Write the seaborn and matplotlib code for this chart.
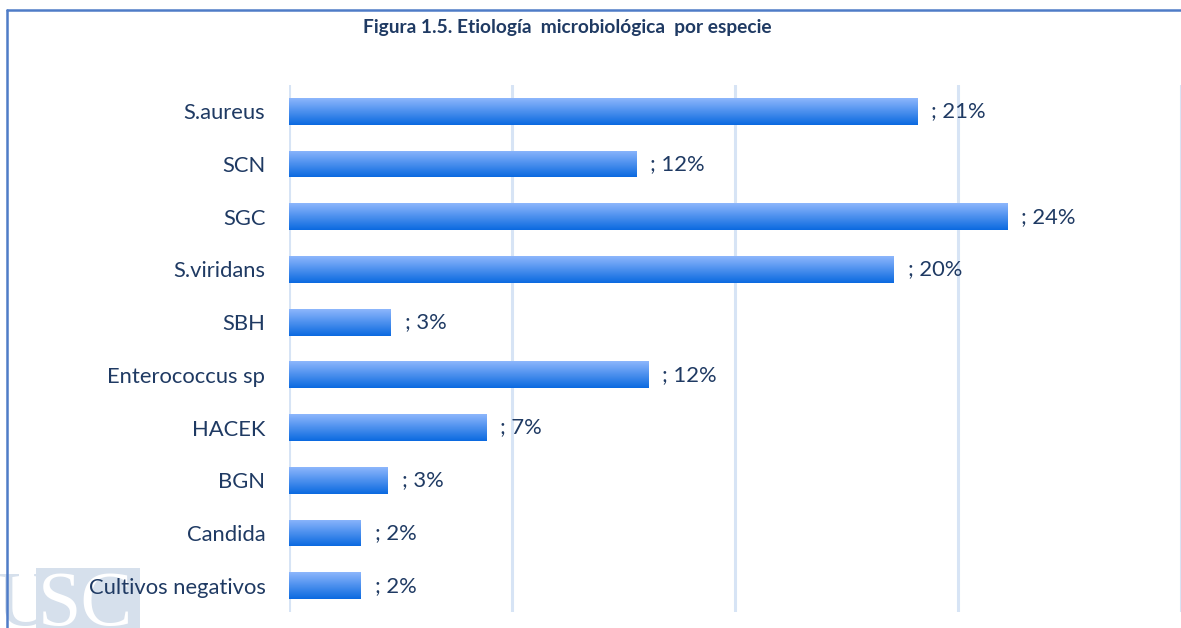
import numpy as np
import pandas as pd
import matplotlib
matplotlib.use("Agg")
import matplotlib.pyplot as plt
from matplotlib.colors import to_rgb
from matplotlib.patches import Rectangle
from matplotlib.lines import Line2D
import seaborn as sns

# Data: share of cases by microorganism (percent)
species = ["S.aureus", "SCN", "SGC", "S.viridans", "SBH",
           "Enterococcus sp", "HACEK", "BGN", "Candida", "Cultivos negativos"]
percent = [21.0, 11.6, 24.0, 20.2, 3.4, 12.0, 6.6, 3.3, 2.4, 2.4]

title = "Figura 1.5. Etiología  microbiológica  por especie"

df = pd.DataFrame({"especie": species, "porcentaje": percent})

sns.set_theme(style="white")
plt.rcParams["font.family"] = ["Lato", "DejaVu Sans"]

text_color = "#1f3a63"
grid_color = "#d7e4f5"
top_color = np.array(to_rgb("#8db6fc"))
bottom_color = np.array(to_rgb("#0b6ae0"))

fig = plt.figure(figsize=(11.81, 6.28), dpi=100)
ax = fig.add_axes([289 / 1181, 1 - 612 / 628, 1 - 289 / 1181, (612 - 85) / 628])
ax.set_zorder(1)
ax.patch.set_alpha(0)

sns.barplot(data=df, x="porcentaje", y="especie", orient="h", ax=ax,
            width=0.51, color="#3d86ee", saturation=1, edgecolor="none")

# Vertical gradient fill for every bar
n = 64
t = np.linspace(0, 1, n)[:, None, None]
grad = top_color * (1 - t) + bottom_color * t
for patch in ax.patches:
    x0, y0 = patch.get_x(), patch.get_y()
    w, h = patch.get_width(), patch.get_height()
    im = ax.imshow(grad, extent=(x0, x0 + w, y0 + h, y0), origin="upper",
                   aspect="auto", interpolation="bilinear", zorder=3)
    im.set_clip_path(patch)
    patch.set_facecolor("none")

x_max = 29.8
step = x_max / 4
ax.set_xlim(0, x_max)
ax.set_ylim(len(species) - 0.5, -0.5)
ax.set_xticks(np.arange(0, x_max + 0.01, step))
ax.set_xticklabels([])
ax.tick_params(axis="x", length=0)
ax.xaxis.grid(True, color=grid_color, linewidth=2.2)
ax.yaxis.grid(False)
ax.set_axisbelow(True)
for s in ax.spines.values():
    s.set_visible(False)

ax.set_xlabel("")
ax.set_ylabel("")
ax.tick_params(axis="y", length=0, pad=17, labelsize=15.8, labelcolor=text_color)

# Value labels
for i, v in enumerate(percent):
    ax.annotate(f"; {v:.0f}%", xy=(v, i), xytext=(10, 0), textcoords="offset points",
                va="center", ha="left", fontsize=15.8, color=text_color)

fig.text(567 / 1181, 1 - 28 / 628, title, ha="center", va="center",
         fontsize=13.8, fontweight="bold", color=text_color)

# Chart frame
frame_color = "#4f7cc7"
fig.add_artist(Line2D([7 / 1181, 1.0], [1 - 10 / 628, 1 - 10 / 628],
                      transform=fig.transFigure, color=frame_color, linewidth=1.8))
fig.add_artist(Line2D([7 / 1181, 7 / 1181], [0.0, 1 - 10 / 628],
                      transform=fig.transFigure, color=frame_color, linewidth=1.8))

# Institutional watermark in the lower-left corner, kept beneath the chart
fig.add_artist(Rectangle((36 / 1181, 0), (140 - 36) / 1181, 60 / 628,
                         transform=fig.transFigure, facecolor="#d6e0ec",
                         edgecolor="none", zorder=-2))
fig.text(-4 / 1181, 3 / 628, "U", family="Liberation Serif", fontsize=56,
         color="#d6e0ec", ha="left", va="baseline", zorder=-1)
fig.text(38 / 1181, 3 / 628, "SC", family="Liberation Serif", fontsize=56,
         color="white", ha="left", va="baseline", zorder=-1)

fig.savefig("out.png", dpi=100)
